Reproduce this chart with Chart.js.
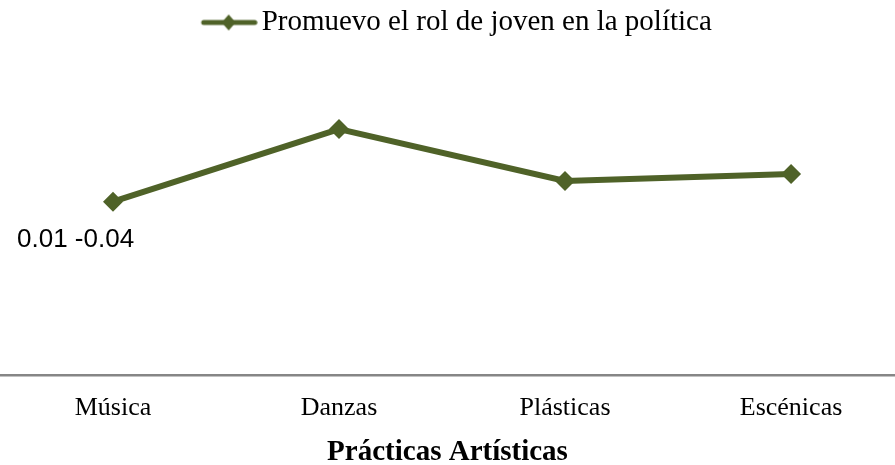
<!DOCTYPE html>
<html>
<head>
<meta charset="utf-8">
<script src="https://cdn.jsdelivr.net/npm/chart.js@4/dist/chart.umd.min.js"></script>
<style>
  html, body { margin: 0; padding: 0; background: #ffffff; }
  #wrap { width: 895px; height: 465px; position: relative; }
</style>
</head>
<body>
<div id="wrap"><canvas id="c"></canvas></div>
<script>
// Categories, values and labels
const categories = ['Música', 'Danzas', 'Plásticas', 'Escénicas'];
const seriesName = 'Promuevo el rol de joven en la política';
const seriesValues = [0.010, 0.031, 0.016, 0.018];
const pointNote = '0.01 -0.04';
const axisTitle = 'Prácticas Artísticas';

const LINE_COLOR = '#4F6228';
const SERIF = '"Liberation Serif", "Times New Roman", serif';

// Legend symbol: a short line segment with a diamond, drawn at the right end
// of the image so it sits just before the legend text
const SYMBOL_BOX = 64;
function legendSymbol() {
  const cv = document.createElement('canvas');
  cv.width = SYMBOL_BOX + 21; cv.height = 20;
  const g = cv.getContext('2d');
  const x0 = cv.width - 57;
  g.strokeStyle = LINE_COLOR;
  g.lineWidth = 5;
  g.lineCap = 'round';
  g.beginPath(); g.moveTo(x0 + 3, 10); g.lineTo(x0 + 54, 10); g.stroke();
  g.fillStyle = LINE_COLOR;
  g.beginPath();
  g.moveTo(x0 + 28, 2); g.lineTo(x0 + 35, 10); g.lineTo(x0 + 28, 18); g.lineTo(x0 + 21, 10);
  g.closePath(); g.fill();
  return cv;
}
const symbol = legendSymbol();

// Text beside the first point
const notePlugin = {
  id: 'pointNote',
  afterDatasetsDraw(chart) {
    const pt = chart.getDatasetMeta(0).data[0];
    const ctx = chart.ctx;
    ctx.save();
    ctx.font = '26px "Liberation Sans", Arial, sans-serif';
    ctx.fillStyle = '#000000';
    ctx.textAlign = 'left';
    ctx.textBaseline = 'middle';
    ctx.fillText(pointNote, pt.x - 96, pt.y + 38);
    ctx.restore();
  }
};

new Chart(document.getElementById('c'), {
  type: 'line',
  data: {
    datasets: [{
      label: seriesName,
      data: seriesValues.map((v, i) => ({ x: i, y: v })),
      borderColor: LINE_COLOR,
      backgroundColor: LINE_COLOR,
      borderWidth: 6,
      pointStyle: 'rectRot',
      pointRadius: 10,
      pointBorderWidth: 0,
      pointBackgroundColor: LINE_COLOR,
      tension: 0,
      clip: false
    }]
  },
  options: {
    responsive: true,
    maintainAspectRatio: false,
    animation: false,
    layout: { autoPadding: false, padding: { left: 0, right: 0, top: 0, bottom: 0 } },
    plugins: {
      tooltip: { enabled: false },
      legend: {
        display: true,
        position: 'top',
        labels: {
          usePointStyle: true,
          pointStyleWidth: SYMBOL_BOX,
          color: '#000000',
          font: { family: SERIF, size: 29 },
          padding: 8,
          generateLabels() {
            return [{
              text: seriesName,
              pointStyle: symbol,
              fillStyle: LINE_COLOR,
              strokeStyle: LINE_COLOR,
              lineWidth: 0,
              hidden: false,
              datasetIndex: 0
            }];
          }
        }
      }
    },
    scales: {
      x: {
        type: 'linear',
        min: -0.5,
        max: 3.46,
        afterBuildTicks(scale) {
          scale.ticks = categories.map((_, i) => ({ value: i }));
        },
        grid: { display: true, drawOnChartArea: false, drawTicks: false },
        border: { display: true, color: '#868686', width: 2.5 },
        ticks: {
          color: '#000000',
          font: { family: SERIF, size: 26 },
          padding: 18,
          maxRotation: 0,
          autoSkip: false,
          callback: (v) => categories[v] ?? ''
        },
        title: {
          display: true,
          text: axisTitle,
          color: '#000000',
          font: { family: SERIF, size: 29, weight: 'bold', lineHeight: 1.0 },
          padding: { top: -4, bottom: -2 }
        }
      },
      y: {
        display: false,
        min: -0.04,
        max: 0.0547
      }
    }
  },
  plugins: [notePlugin]
});
</script>
</body>
</html>
